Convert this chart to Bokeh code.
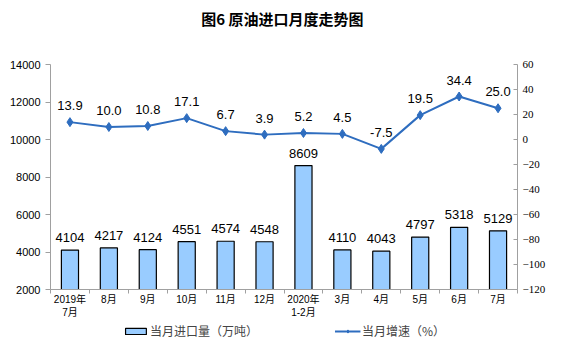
from bokeh.plotting import figure
from bokeh.layouts import column
from bokeh.models import Range1d, LinearAxis, FixedTicker, ColumnDataSource, Legend, LegendItem
from bokeh.core.properties import value
from bokeh.embed import file_html
from bokeh.resources import INLINE

title_text = "图6  原油进口月度走势图"
categories = ["2019年\n7月", "8月", "9月", "10月", "11月", "12月", "2020年\n1-2月", "3月", "4月", "5月", "6月", "7月"]
imports = [4104, 4217, 4124, 4551, 4574, 4548, 8609, 4110, 4043, 4797, 5318, 5129]
growth = [13.9, 10.0, 10.8, 17.1, 6.7, 3.9, 5.2, 4.5, -7.5, 19.5, 34.4, 25.0]
left_ticks = [2000, 4000, 6000, 8000, 10000, 12000, 14000]
right_ticks = [-120, -100, -80, -60, -40, -20, 0, 20, 40, 60]

xs = list(range(len(categories)))
src = ColumnDataSource(dict(
    x=xs, imp=imports, gr=growth,
    imp_lbl=[str(v) for v in imports],
    gr_lbl=["%.1f" % v for v in growth],
))

CJK = "Noto Sans CJK SC"
LINE_C = "#2E6DBF"
BAR_C = "#99CCFF"
W = 561

def bare(h):
    f = figure(width=W, height=h, output_backend="svg", toolbar_location=None,
               x_axis_type=None, y_axis_type=None, min_border=0,
               x_range=Range1d(0, 1), y_range=Range1d(0, 1))
    f.outline_line_color = None
    f.xgrid.visible = False
    f.ygrid.visible = False
    return f

# title strip
tf = bare(54)
tf.text(x=[0.5], y=[1], text=[title_text], text_align="center", text_baseline="middle",
        y_offset=18, text_font=value(CJK), text_font_size="15px", text_font_style="bold",
        text_color="#000000")

# main chart
p = figure(width=W, height=268, output_backend="svg", toolbar_location=None,
           x_range=Range1d(-0.5, 11.5), y_range=Range1d(2000, 14000),
           min_border_left=50, min_border_right=44, min_border_top=10, min_border_bottom=33)
p.outline_line_color = None
p.xgrid.visible = False
p.ygrid.visible = False

p.extra_y_ranges = {"r": Range1d(-120, 60)}

bars = p.vbar(x="x", top="imp", bottom=2000, width=0.44, source=src,
              fill_color=BAR_C, line_color="#000000", line_width=1.2)
line = p.line(x="x", y="gr", source=src, y_range_name="r", line_color=LINE_C, line_width=2)
pts = p.scatter(x="x", y="gr", source=src, y_range_name="r", marker="diamond",
                size=9, fill_color=LINE_C, line_color=LINE_C)

p.text(x="x", y="imp", text="imp_lbl", source=src, text_align="center", text_baseline="bottom",
       y_offset=-8, text_font=value("Liberation Sans"), text_font_size="13px", text_color="#000000")
p.text(x="x", y="gr", text="gr_lbl", source=src, y_range_name="r", text_align="center",
       text_baseline="bottom", y_offset=-12, text_font=value("Liberation Sans"),
       text_font_size="13px", text_color="#000000")

ya = p.yaxis[0]
ya.ticker = FixedTicker(ticks=left_ticks)
ya.axis_line_color = "#A0A0A0"
ya.major_tick_line_color = "#A0A0A0"
ya.major_tick_out = 5
ya.major_tick_in = 0
ya.minor_tick_line_color = None
ya.major_label_text_font = "Liberation Sans"
ya.major_label_text_font_size = "11px"
ya.major_label_text_color = "#000000"

ra = LinearAxis(y_range_name="r", ticker=FixedTicker(ticks=right_ticks))
ra.axis_line_color = "#A0A0A0"
ra.major_tick_line_color = "#A0A0A0"
ra.major_tick_out = 0
ra.major_tick_in = 4
ra.minor_tick_line_color = None
ra.major_label_text_font = "Liberation Serif"
ra.major_label_text_font_size = "11px"
ra.major_label_text_color = "#000000"
p.add_layout(ra, "right")

xa = p.xaxis[0]
xa.ticker = FixedTicker(ticks=xs, minor_ticks=[i - 0.5 for i in range(len(categories) + 1)])
xa.major_label_overrides = {i: c for i, c in enumerate(categories)}
xa.major_tick_out = 0
xa.major_tick_in = 0
xa.minor_tick_out = 4
xa.minor_tick_in = 0
xa.minor_tick_line_color = "#A0A0A0"
xa.axis_line_color = "#A0A0A0"
xa.major_label_text_font = "Liberation Sans, Noto Sans CJK SC"
xa.major_label_text_font_size = "10px"
xa.major_label_text_line_height = 1.25
xa.major_label_text_color = "#000000"
xa.major_label_standoff = 0

# legend strip
lg = bare(35)
off = ColumnDataSource(dict(x=[-10], y=[-10]))
lb = lg.vbar(x="x", top="y", width=0.1, source=off, fill_color=BAR_C, line_color="#000000", line_width=1.2)
ll = lg.line(x="x", y="y", source=off, line_color=LINE_C, line_width=2)
lp = lg.scatter(x="x", y="y", source=off, marker="diamond", size=7, fill_color=LINE_C, line_color=LINE_C)
legend = Legend(items=[
    LegendItem(label="当月进口量（万吨）", renderers=[lb]),
    LegendItem(label="当月增速（%）", renderers=[ll, lp]),
], orientation="horizontal", location="top_center", spacing=76, glyph_width=26, glyph_height=8,
    label_text_font=CJK, label_text_font_size="12px", label_standoff=2,
    border_line_color=None, background_fill_alpha=0, padding=0, margin=0)
lg.add_layout(legend, "center")

open("out.html", "w").write(file_html(column(tf, p, lg, spacing=0), INLINE))
